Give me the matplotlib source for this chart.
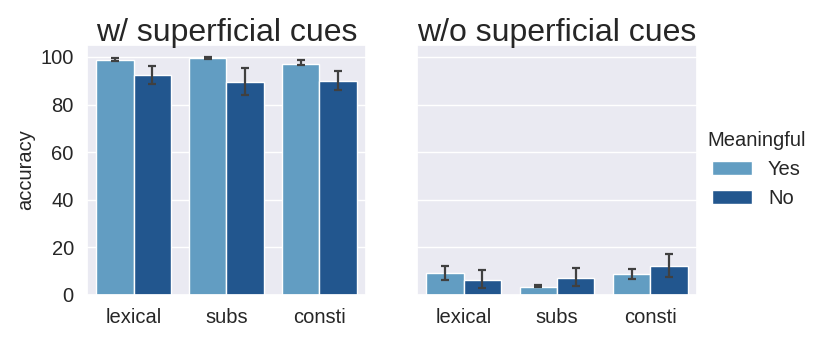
import numpy as np
import matplotlib.pyplot as plt
import seaborn as sns

sns.set_theme(style="darkgrid")
plt.rcParams['font.family'] = ['Arial', 'Liberation Sans', 'DejaVu Sans']

categories = ["lexical", "subs", "consti"]
hue_levels = ["Yes", "No"]
titles = ["w/ superficial cues", "w/o superficial cues"]

# mean accuracy per panel, per hue level
with_yes = [98.9, 99.6, 97.2]
with_no = [92.3, 89.4, 89.8]
without_yes = [9.1, 3.5, 8.7]
without_no = [6.4, 7.1, 12.2]

# error bar lower / upper bounds
with_yes_lo = [98.4, 99.3, 96.6]
with_yes_hi = [99.4, 99.9, 98.7]
with_no_lo = [88.7, 84.0, 86.0]
with_no_hi = [96.3, 95.4, 94.0]
without_yes_lo = [6.3, 3.2, 6.6]
without_yes_hi = [12.3, 4.2, 11.0]
without_no_lo = [2.9, 3.9, 7.7]
without_no_hi = [10.5, 11.2, 17.2]

colors = ["#629dc2", "#22568e"]

panels = [
    [(with_yes, with_yes_lo, with_yes_hi), (with_no, with_no_lo, with_no_hi)],
    [(without_yes, without_yes_lo, without_yes_hi), (without_no, without_no_lo, without_no_hi)],
]

fig = plt.figure(figsize=(8.31, 3.39), dpi=100)
ax1 = fig.add_axes([0.1047, 0.1298, 0.3357, 0.7375])
ax2 = fig.add_axes([0.5018, 0.1298, 0.3369, 0.7375], sharey=ax1)

fs = 14.5
x = np.arange(len(categories))
w = 0.4
handles = []
for ax, title, series in zip([ax1, ax2], titles, panels):
    for i, (vals, lo, hi) in enumerate(series):
        pos = x - w / 2 + i * w
        vals = np.array(vals)
        err = [vals - np.array(lo), np.array(hi) - vals]
        b = ax.bar(pos, vals, width=w, color=colors[i], edgecolor="white",
                   linewidth=1, label=hue_levels[i])
        ax.errorbar(pos, vals, yerr=err, fmt="none", ecolor="#404040",
                    elinewidth=1.6, capsize=3, capthick=1.6)
        if ax is ax1:
            handles.append(b)
    ax.set_xticks(x)
    ax.set_xticklabels(categories, fontsize=fs)
    ax.set_xlim(-0.5, 2.5)
    ax.set_title(title, fontsize=23, pad=3)
    ax.grid(axis="x", visible=False)
    ax.tick_params(axis="y", labelsize=fs)

ax1.set_ylim(0, 105)
ax1.set_yticks([0, 20, 40, 60, 80, 100])
ax1.set_ylabel("accuracy", fontsize=fs)
ax2.tick_params(axis="y", labelleft=False)

leg = fig.legend(handles, hue_levels, title="Meaningful", loc="center left",
                 bbox_to_anchor=(0.829, 0.5), frameon=False, fontsize=fs,
                 title_fontsize=fs)

fig.savefig("out.png", dpi=100)
